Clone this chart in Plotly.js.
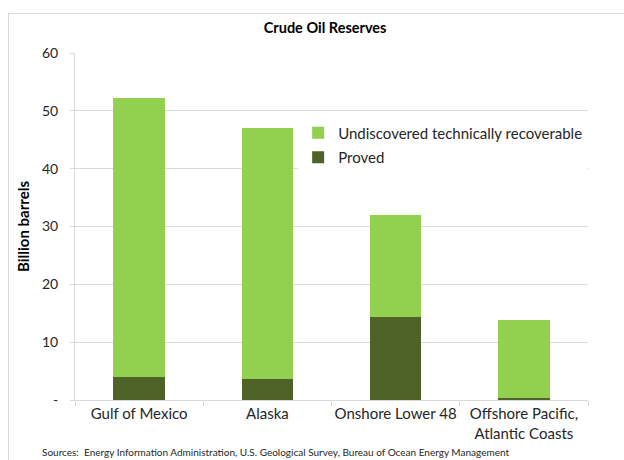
<!DOCTYPE html>
<html>
<head>
<meta charset="utf-8">
<script src="https://cdn.plot.ly/plotly-3.0.1.min.js"></script>
<style>
  body { margin: 0; background: #fff; }
  #frame { position: absolute; left: 8px; top: 13px; width: 640px; height: 470px; border: 1px solid #d9d9d9; }
  #chart { position: absolute; left: 0; top: 0; width: 624px; height: 460px; }
</style>
</head>
<body>
<div id="frame"></div>
<div id="chart"></div>
<script>
// Crude oil reserves by region (billion barrels)
const regions = ['Gulf of Mexico', 'Alaska', 'Onshore Lower 48', 'Offshore Pacific,<br>Atlantic Coasts'];
const proved = [4.0, 3.6, 14.4, 0.3];
const undiscovered = [48.3, 43.5, 17.6, 13.5];
const yTickVals = [0, 10, 20, 30, 40, 50, 60];
const yTickText = ['-', '10', '20', '30', '40', '50', '60'];

const font = 'Lato, "Open Sans", sans-serif';

Plotly.newPlot('chart', [{
  x: regions,
  y: proved,
  name: 'Proved',
  type: 'bar',
  legendgroup: 'proved',
  legendrank: 2,
  marker: { color: '#4f6228' },
  hoverinfo: 'y+name'
}, {
  x: regions,
  y: undiscovered,
  name: 'Undiscovered technically recoverable',
  type: 'bar',
  legendgroup: 'undisc',
  legendrank: 1,
  marker: { color: '#92d050' },
  hoverinfo: 'y+name'
}], {
  barmode: 'stack',
  bargap: 0.6,
  width: 624,
  height: 460,
  paper_bgcolor: 'rgba(0,0,0,0)',
  plot_bgcolor: 'rgba(0,0,0,0)',
  margin: { l: 75, r: 36, t: 53, b: 60 },
  font: { family: font, size: 15, color: '#262626' },
  title: {
    text: '<b>Crude Oil Reserves</b>',
    font: { size: 14.5, color: '#000' },
    x: 0.521, xanchor: 'center',
    yref: 'container', y: 0.939, yanchor: 'middle'
  },
  xaxis: {
    type: 'category',
    tickson: 'boundaries',
    tickangle: 0,
    ticks: 'outside',
    ticklen: 5,
    tickcolor: '#d9d9d9',
    showline: true,
    linecolor: '#d9d9d9',
    showgrid: false,
    automargin: false,
    tickfont: { size: 15, color: '#262626' }
  },
  yaxis: {
    range: [0, 60],
    tickvals: yTickVals,
    ticktext: yTickText,
    ticks: 'outside',
    ticklen: 4,
    tickcolor: '#d9d9d9',
    ticklabelstandoff: 9,
    showline: true,
    linecolor: '#d9d9d9',
    gridcolor: '#d9d9d9',
    zeroline: false,
    tickfont: { size: 14, color: '#262626' },
    title: { text: '<b>Billion barrels</b>', font: { size: 15, color: '#000' }, standoff: 8 }
  },
  legend: {
    x: 0.435, xanchor: 'left',
    y: 0.817, yanchor: 'top',
    bgcolor: '#fff',
    traceorder: 'grouped',
    tracegroupgap: 2,
    font: { size: 15, color: '#262626' }
  },
  annotations: [{
    text: 'Sources:  Energy Information Administration, U.S. Geological Survey, Bureau of Ocean Energy Management',
    xref: 'paper', yref: 'paper',
    x: -0.068, xanchor: 'left',
    y: -0.128, yanchor: 'top',
    showarrow: false,
    font: { size: 10, color: '#262626' }
  }]
}, { displayModeBar: false });
</script>
</body>
</html>
